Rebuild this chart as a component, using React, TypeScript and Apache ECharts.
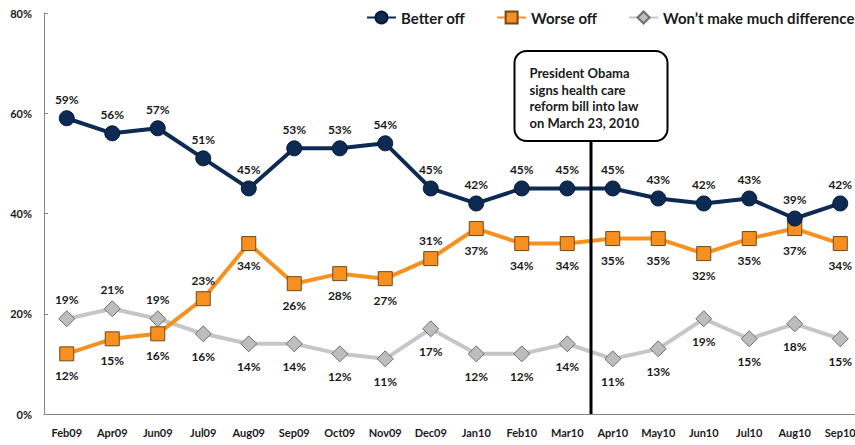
import React, { useEffect, useRef } from "react";
import * as echarts from "echarts";

const categories = ["Feb09", "Apr09", "Jun09", "Jul09", "Aug09", "Sep09", "Oct09", "Nov09", "Dec09", "Jan10", "Feb10", "Mar10", "Apr10", "May10", "Jun10", "Jul10", "Aug10", "Sep10"];
const betterOff = [59, 56, 57, 51, 45, 53, 53, 54, 45, 42, 45, 45, 45, 43, 42, 43, 39, 42];
const worseOff = [12, 15, 16, 23, 34, 26, 28, 27, 31, 37, 34, 34, 35, 35, 32, 35, 37, 34];
const noDifference = [19, 21, 19, 16, 14, 14, 12, 11, 17, 12, 12, 14, 11, 13, 19, 15, 18, 15];
const worseLabelAbove = [false, false, false, true, false, false, false, false, true, false, false, false, false, false, false, false, false, false];
const noDiffLabelAbove = [true, true, true, false, false, false, false, false, false, false, false, false, false, false, false, false, false, false];
const yTicks = [0, 20, 40, 60, 80];
const annotationLines = ["President Obama", "signs health care", "reform bill into law", "on March 23, 2010"];

const FONT = "Lato, 'Open Sans', sans-serif";
const NAVY = "#0D2A52";
const ORANGE = "#F7901E";
const GRAY_LINE = "#C6C6C6";
const GRAY_FILL = "#BDBDBD";

export default function App() {
  const ref = useRef<HTMLDivElement>(null);
  useEffect(() => {
    if (!ref.current) return;
    const chart = echarts.init(ref.current, null, { renderer: "svg" });
    const labelStyle = { color: "#1a1a1a", fontFamily: FONT, fontWeight: "bold" as const, fontSize: 12, formatter: "{c}%" };
    chart.setOption({
      animation: false,
      legend: {
        top: 5,
        left: 361,
        width: 520,
        itemWidth: 29,
        itemHeight: 15,
        itemGap: 31,
        textStyle: { fontFamily: FONT, fontWeight: "bold", fontSize: 15, color: "#1a1a1a" },
        data: ["Better off", "Worse off", "Won’t make much difference"],
      },
      grid: { left: 44, width: 819, top: 13, height: 401, containLabel: false, outerBoundsMode: "none" },
      xAxis: {
        type: "category",
        data: categories,
        boundaryGap: true,
        axisLine: { lineStyle: { color: "#868686", width: 1 } },
        axisTick: { inside: true, length: 4, lineStyle: { color: "#868686" } },
        axisLabel: { fontFamily: FONT, fontWeight: "bold", fontSize: 11, color: "#1a1a1a", margin: 13, interval: 0 },
      },
      yAxis: {
        type: "value",
        min: yTicks[0],
        max: yTicks[yTicks.length - 1],
        interval: 20,
        splitLine: { show: false },
        axisLine: { show: true, lineStyle: { color: "#868686", width: 1 } },
        axisTick: { show: true, inside: true, length: 4, lineStyle: { color: "#868686" } },
        axisLabel: { fontFamily: FONT, fontWeight: "bold", fontSize: 11, color: "#1a1a1a", margin: 12, formatter: "{value}%" },
      },
      series: [
        {
          name: "Better off",
          type: "line",
          data: betterOff,
          symbol: "circle",
          symbolSize: 15,
          lineStyle: { color: NAVY, width: 4 },
          itemStyle: { color: NAVY, borderColor: "#061a36", borderWidth: 1 },
          label: { show: true, position: "top", distance: 5, ...labelStyle },
          z: 4,
        },
        {
          name: "Worse off",
          type: "line",
          data: worseOff.map((v, i) => ({
            value: v,
            label: { position: worseLabelAbove[i] ? "top" : "bottom", distance: worseLabelAbove[i] ? 5 : 8 },
          })),
          symbol: "rect",
          symbolSize: 14,
          lineStyle: { color: ORANGE, width: 4 },
          itemStyle: { color: ORANGE, borderColor: "#6b4a1e", borderWidth: 1 },
          label: { show: true, ...labelStyle },
          z: 3,
        },
        {
          name: "Won’t make much difference",
          type: "line",
          data: noDifference.map((v, i) => ({
            value: v,
            label: { position: noDiffLabelAbove[i] ? "top" : "bottom", distance: noDiffLabelAbove[i] ? 5 : 8 },
          })),
          symbol: "diamond",
          symbolSize: 16,
          lineStyle: { color: GRAY_LINE, width: 4 },
          itemStyle: { color: GRAY_FILL, borderColor: "#6f6f6f", borderWidth: 1 },
          label: { show: true, ...labelStyle },
          z: 2,
        },
      ],
    });

    const xMar = chart.convertToPixel({ xAxisIndex: 0 }, "Mar10") as number;
    const xApr = chart.convertToPixel({ xAxisIndex: 0 }, "Apr10") as number;
    const lineX = Math.round(xMar + 0.53 * (xApr - xMar));
    const yBottom = chart.convertToPixel({ yAxisIndex: 0 }, 0) as number;
    const boxW = 153;
    const boxTop = 51;
    const boxH = 90;
    const boxLeft = lineX - boxW / 2;
    chart.setOption({
      graphic: [
        {
          type: "line",
          shape: { x1: lineX, y1: boxTop + boxH, x2: lineX, y2: yBottom },
          style: { stroke: "#000", lineWidth: 3 },
          z: 10,
        },
        {
          type: "rect",
          shape: { x: boxLeft, y: boxTop, width: boxW, height: boxH, r: 12 },
          style: { fill: "#fff", stroke: "#000", lineWidth: 2 },
          z: 11,
        },
        ...annotationLines.map((t, i) => ({
          type: "text",
          x: boxLeft + 15,
          y: 73 + i * 16.7,
          style: {
            text: t,
            fill: "#1a1a1a",
            font: `bold 13px ${FONT}`,
            verticalAlign: "middle",
          },
          z: 12,
        })),
      ],
    });

    return () => chart.dispose();
  }, []);
  return <div ref={ref} style={{ width: 855, height: 445, position: "absolute", left: 0, top: 0 }} />;
}
